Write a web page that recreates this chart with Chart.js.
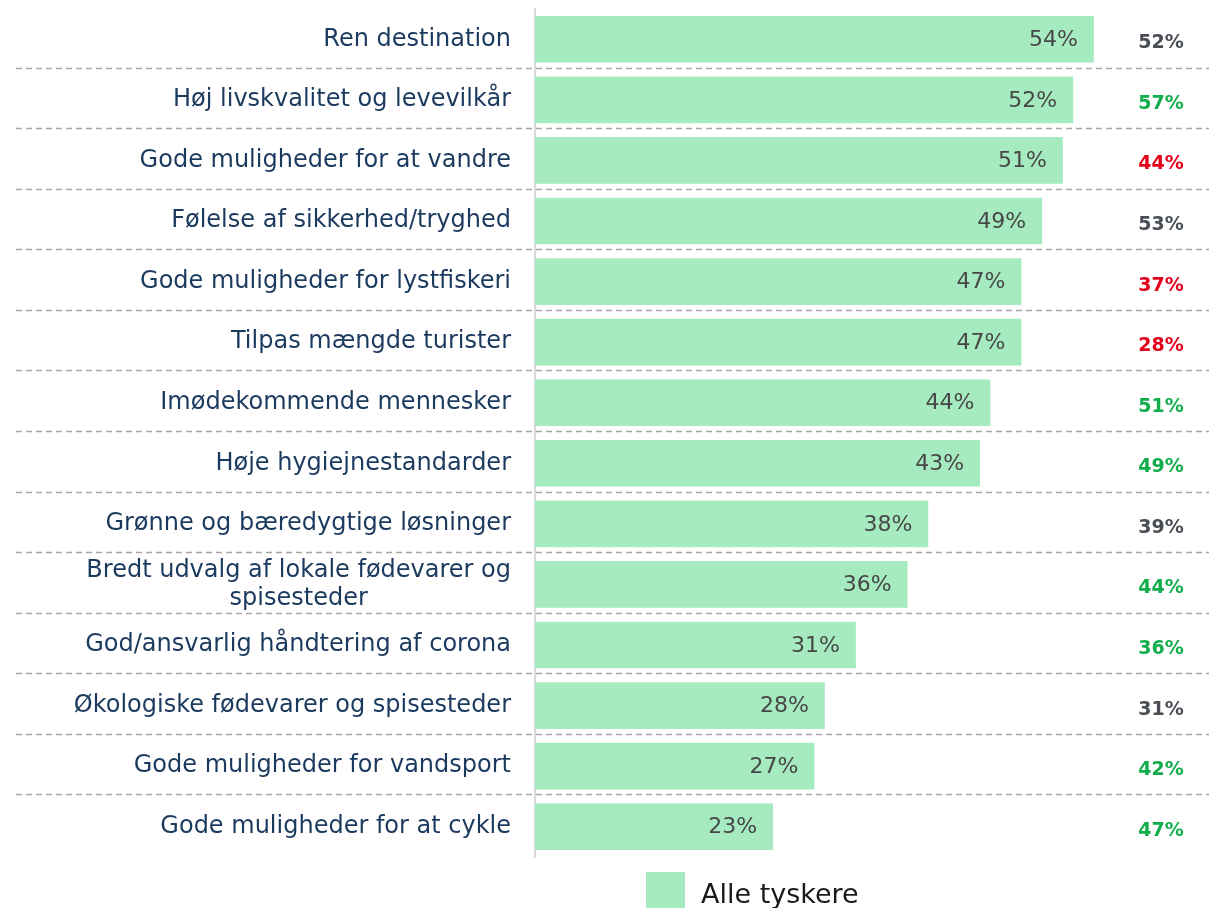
<!DOCTYPE html>
<html>
<head>
<meta charset="utf-8">
<script src="https://cdn.jsdelivr.net/npm/chart.js@4"></script>
<style>
  body { margin: 0; background: #fff; }
</style>
</head>
<body>
<canvas id="chart" width="1209" height="908"></canvas>
<script>
const categories = [
  'Ren destination',
  'Høj livskvalitet og levevilkår',
  'Gode muligheder for at vandre',
  'Følelse af sikkerhed/tryghed',
  'Gode muligheder for lystfiskeri',
  'Tilpas mængde turister',
  'Imødekommende mennesker',
  'Høje hygiejnestandarder',
  'Grønne og bæredygtige løsninger',
  ['Bredt udvalg af lokale fødevarer og', 'spisesteder'],
  'God/ansvarlig håndtering af corona',
  'Økologiske fødevarer og spisesteder',
  'Gode muligheder for vandsport',
  'Gode muligheder for at cykle'
];
const alleTyskere = [54, 52, 51, 49, 47, 47, 44, 43, 38, 36, 31, 28, 27, 23];
const sammenligning = [52, 57, 44, 53, 37, 28, 51, 49, 39, 44, 36, 31, 42, 47];
const legendLabel = 'Alle tyskere';

const FONT = '"DejaVu Sans", "Noto Sans", sans-serif';
const barColor = '#a6eac0';

// colour of the comparison number: green if clearly higher, red if clearly lower
function diffColor(i) {
  const d = sammenligning[i] - alleTyskere[i];
  if (d >= 5) return '#12ad4b';
  if (d <= -5) return '#e4001b';
  return '#494e55';
}

const overlay = {
  id: 'overlay',
  afterDatasetsDraw(chart) {
    const ctx = chart.ctx;
    const bars = chart.getDatasetMeta(0).data;
    const left = chart.chartArea.left;
    ctx.save();

    // dashed separators between rows
    ctx.strokeStyle = '#a6a6a6';
    ctx.lineWidth = 1.5;
    ctx.setLineDash([6, 4]);
    for (let i = 1; i < bars.length; i++) {
      const y = Math.round((bars[i - 1].y + bars[i].y) / 2 - 2) + 0.5;
      ctx.beginPath();
      ctx.moveTo(16, y);
      ctx.lineTo(chart.width, y);
      ctx.stroke();
    }
    ctx.setLineDash([]);

    // category labels
    ctx.fillStyle = '#1b3a5e';
    ctx.font = '24px ' + FONT;
    ctx.textBaseline = 'middle';
    ctx.textAlign = 'center';
    categories.forEach((lab, i) => {
      const lines = Array.isArray(lab) ? lab : [lab];
      const w = Math.max(...lines.map(l => ctx.measureText(l).width));
      const cx = left - 24 - w / 2;
      const lh = 28;
      const y0 = bars[i].y - (lines.length - 1) * lh / 2;
      lines.forEach((l, k) => ctx.fillText(l, cx, y0 + k * lh));
    });

    // values inside bars
    ctx.font = '22px ' + FONT;
    ctx.textAlign = 'right';
    ctx.fillStyle = '#474747';
    bars.forEach((b, i) => {
      ctx.fillText(alleTyskere[i] + '%', b.x - 16, b.y + 1);
    });

    // comparison values on the right
    ctx.textAlign = 'center';
    ctx.font = 'bold 19px ' + FONT;
    bars.forEach((b, i) => {
      ctx.fillStyle = diffColor(i);
      ctx.fillText(sammenligning[i] + '%', 1161, b.y + 4);
    });

    // legend
    ctx.fillStyle = barColor;
    ctx.fillRect(646, 872, 39, 39);
    ctx.fillStyle = '#1a1a1a';
    ctx.textAlign = 'left';
    ctx.textBaseline = 'alphabetic';
    ctx.font = '27px ' + FONT;
    ctx.fillText(legendLabel, 701, 903);
    ctx.restore();
  }
};

new Chart(document.getElementById('chart'), {
  type: 'bar',
  data: {
    labels: categories,
    datasets: [{
      label: legendLabel,
      data: alleTyskere,
      backgroundColor: barColor,
      borderWidth: 0,
      categoryPercentage: 1,
      barPercentage: 0.77
    }]
  },
  options: {
    indexAxis: 'y',
    responsive: false,
    animation: false,
    layout: { padding: { top: 9, bottom: 51, right: 53, left: 0 } },
    plugins: {
      legend: { display: false },
      tooltip: { enabled: false }
    },
    scales: {
      x: { display: false, min: 0, max: 60 },
      y: {
        grid: { display: false },
        border: { display: true, color: '#d9d9d9', width: 2 },
        ticks: { display: false },
        afterFit(scale) { scale.width = 535; }
      }
    }
  },
  plugins: [overlay]
});
</script>
</body>
</html>
